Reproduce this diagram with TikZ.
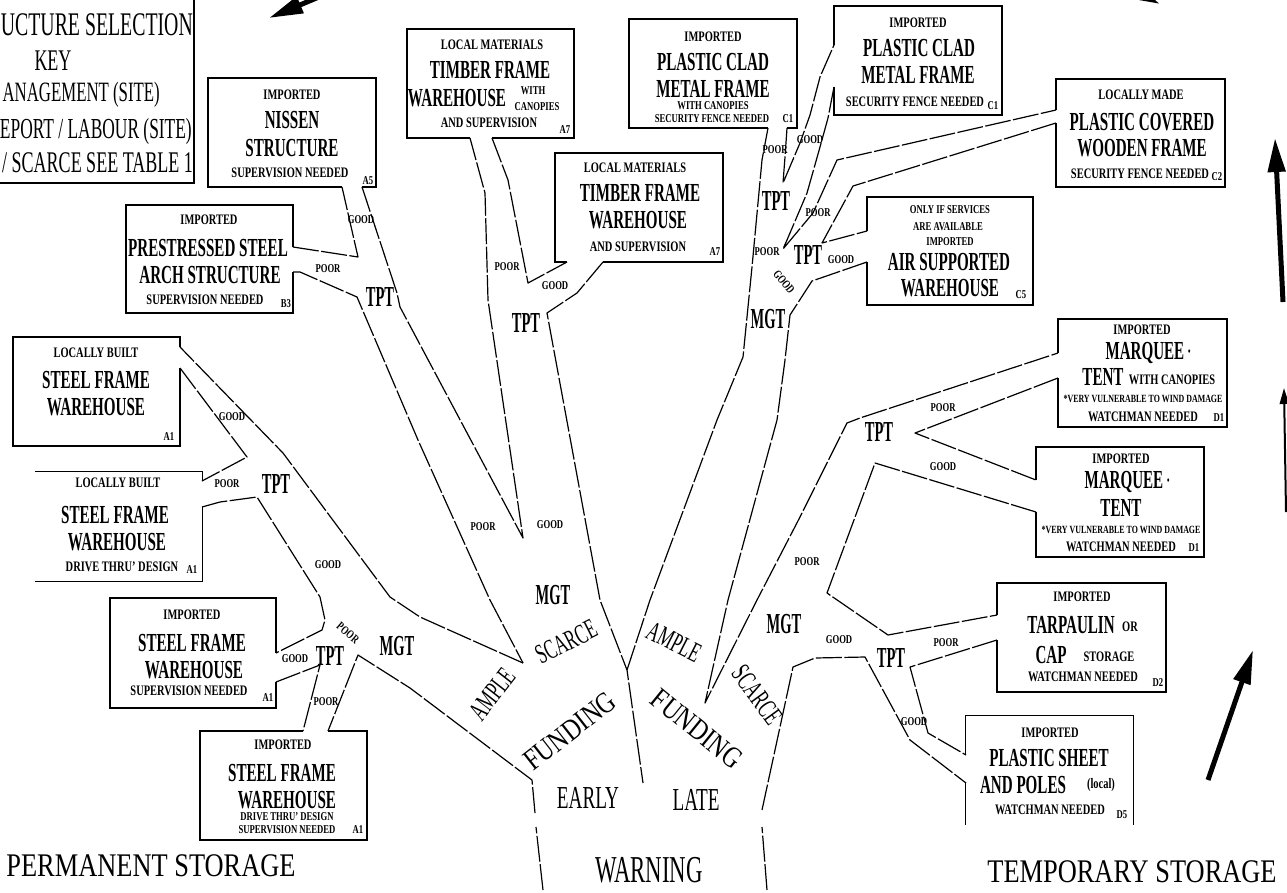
\documentclass[tikz,border=0pt]{standalone}
\usepackage{fontspec}
\usetikzlibrary{arrows.meta}
\setmainfont{Liberation Serif}
\newbox\cbx
\tikzset{
  cond/.style={execute at begin node={\setbox\cbx=\hbox\bgroup},
               execute at end node={\egroup\scalebox{#1}[1]{\box\cbx}}},
  bx/.style={draw, line width=1.3pt, inner sep=0pt},
  bxo/.style={inner sep=0pt},
  boxline/.style={line width=1.3pt},
  big/.style={font=\bfseries\fontsize{26}{26}\selectfont, inner sep=0pt, cond=0.58},
  sm/.style={font=\bfseries\fontsize{14.5}{14.5}\selectfont, inner sep=0pt, cond=0.72},
  tiny/.style={font=\bfseries\fontsize{11}{11}\selectfont, inner sep=0pt, cond=0.72},
  pg/.style={font=\bfseries\fontsize{12}{12}\selectfont, inner sep=0pt, cond=0.72},
  code/.style={font=\bfseries\fontsize{12}{12}\selectfont, inner sep=0pt, cond=0.72},
  tp/.style={font=\bfseries\fontsize{29}{29}\selectfont, inner sep=0pt, cond=0.5},
  mid/.style={font=\fontsize{28}{28}\selectfont, inner sep=0pt, cond=0.6},
  fund/.style={font=\fontsize{30}{30}\selectfont, inner sep=0pt, cond=0.8},
  lbl/.style={font=\fontsize{32}{32}\selectfont, inner sep=0pt, cond=0.6},
  ttl/.style={font=\fontsize{33}{33}\selectfont, inner sep=0pt, cond=0.8},
  keyt/.style={font=\fontsize{#1}{#1}\selectfont, inner sep=0pt, anchor=east, cond=0.6},
  ch/.style={line width=1.2pt, line join=round, dash pattern=on 26pt off 2.5pt},
  gap/.style={draw=white, line width=3.5pt},
  arr/.style={line width=5pt, -{Triangle[length=34pt,width=17pt]}}
}
\newcommand{\mq}{MARQUEE \raisebox{4pt}{\fontsize{12}{12}\selectfont •}}
\begin{document}
\begin{tikzpicture}[x=1pt,y=-1pt]
\useasboundingbox (0,0) rectangle (1287,892);

% ---------- key box ----------
\node[bx, minimum width=214pt, minimum height=203pt] (key) at (87,81.5) {};
\node[keyt=33] (k1) at (193,25) {UCTURE SELECTION};
\node[font=\fontsize{30}{30}\selectfont, inner sep=0pt, cond=0.6] (k2) at (53,61) {KEY};
\node[keyt=28] (k3) at (160,95) {ANAGEMENT (SITE)};
\node[keyt=29] (k4) at (192,132) {EPORT / LABOUR (SITE)};
\node[keyt=30] (k5) at (193,163) {/ SCARCE SEE TABLE 1};

% ---------- boxes ----------
\node[bx, minimum width=168pt, minimum height=109pt] (bA5) at (292,132.5) {};
\node[bx, minimum width=167pt, minimum height=108pt] (bB3) at (209.5,259) {};
\node[bx, minimum width=167pt, minimum height=109pt] (bA7u) at (490.5,83.5) {};
\node[bx, minimum width=168pt, minimum height=109pt] (bA7l) at (639,207.5) {};
\node[bx, minimum width=168pt, minimum height=109pt] (bC1l) at (713,73.5) {};
\node[bx, minimum width=168pt, minimum height=109pt] (bC1r) at (918,60.5) {};
\node[bx, minimum width=169pt, minimum height=108pt] (bC2) at (1140.5,133) {};
\node[bx, minimum width=166pt, minimum height=108pt] (bC5) at (950,251) {};
\node[bx, minimum width=169pt, minimum height=108pt] (bD1u) at (1142.5,373) {};
\node[bx, minimum width=168pt, minimum height=110pt] (bD1l) at (1120,502) {};
\node[bx, minimum width=169pt, minimum height=109pt] (bD2) at (1081.5,637.5) {};
\node[bxo, minimum width=167pt, minimum height=109pt] (bD5) at (1049.5,770.5) {};
\draw[boxline] (bD5.south west) -- (bD5.north west) -- (bD5.north east) -- (bD5.south east);
\node[bx, minimum width=167pt, minimum height=109pt] (bA1a) at (96.5,391.5) {};
\node[bxo, minimum width=167pt, minimum height=109pt] (bA1b) at (118.5,526.5) {};
\draw[boxline] (bA1b.north west) -- (bA1b.north east) -- (bA1b.south east) -- (bA1b.south west);
\node[bx, minimum width=166pt, minimum height=110pt] (bA1c) at (193,653) {};
\node[bx, minimum width=167pt, minimum height=109pt] (bA1d) at (283.5,785.5) {};

% openings where the branches enter the boxes
\draw[gap] (342,187) -- (362,187);
\draw[gap] (293,247) -- (293,272);
\draw[gap] (470,138) -- (492,138);
\draw[gap] (567,262) -- (603,262);
\draw[gap] (768,128) -- (787,128);
\draw[gap] (834,45) -- (834,87);
\draw[gap] (1056,110) -- (1056,123);
\draw[gap] (867,231) -- (867,262);
\draw[gap] (1058,353) -- (1058,378);
\draw[gap] (1036,480) -- (1036,512);
\draw[gap] (997,615) -- (997,640);
\draw[gap] (966,755) -- (966,783);
\draw[gap] (180,347) -- (180,368);
\draw[gap] (202,481) -- (202,507);
\draw[gap] (276,653) -- (276,682);
\draw[gap] (303,731) -- (328,731);

% ---------- box texts ----------
% A5
\node[sm] (a5t1) at (292,95) {IMPORTED};
\node[big] (a5t2) at (292,120) {NISSEN};
\node[big] (a5t3) at (292,148) {STRUCTURE};
\node[sm] (a5t4) at (290,173) {SUPERVISION NEEDED};
\node[code] (a5c) at (368,181) {A5};
% B3
\node[sm] (b3t1) at (209,220) {IMPORTED};
\node[big] (b3t2) at (208,248) {PRESTRESSED STEEL};
\node[big] (b3t3) at (210,275) {ARCH STRUCTURE};
\node[sm] (b3t4) at (205,300) {SUPERVISION NEEDED};
\node[code] (b3c) at (286,304) {B3};
% A7 upper
\node[sm] (a7ut1) at (492,45) {LOCAL MATERIALS};
\node[big] (a7ut2) at (490,70) {TIMBER FRAME};
\node[big] (a7ut3) at (457,98) {WAREHOUSE};
\node[pg] (a7ut4) at (533,91) {WITH};
\node[pg] (a7ut5) at (537,107) {CANOPIES};
\node[sm] (a7ut6) at (489,123) {AND SUPERVISION};
\node[code] (a7uc) at (565,130) {A7};
% A7 lower
\node[sm] (a7lt1) at (635,168) {LOCAL MATERIALS};
\node[big] (a7lt2) at (640,193) {TIMBER FRAME};
\node[big] (a7lt3) at (638,220) {WAREHOUSE};
\node[sm] (a7lt4) at (638,247) {AND SUPERVISION};
\node[code] (a7lc) at (715,252) {A7};
% C1 left
\node[sm] (c1lt1) at (713,37) {IMPORTED};
\node[big] (c1lt2) at (713,62) {PLASTIC CLAD};
\node[big] (c1lt3) at (713,89) {METAL FRAME};
\node[pg] (c1lt4) at (713,106) {WITH CANOPIES};
\node[pg] (c1lt5) at (712,119) {SECURITY FENCE NEEDED};
\node[code] (c1lc) at (788,119) {C1};
% C1 right
\node[sm] (c1rt1) at (918,23) {IMPORTED};
\node[big] (c1rt2) at (919,48) {PLASTIC CLAD};
\node[big] (c1rt3) at (918,75) {METAL FRAME};
\node[sm] (c1rt4) at (915,102) {SECURITY FENCE NEEDED};
\node[code] (c1rc) at (993,106) {C1};
% C2
\node[sm] (c2t1) at (1141,95) {LOCALLY MADE};
\node[big] (c2t2) at (1142,122) {PLASTIC COVERED};
\node[big] (c2t3) at (1142,148) {WOODEN FRAME};
\node[sm] (c2t4) at (1140,174) {SECURITY FENCE NEEDED};
\node[code] (c2c) at (1217,177) {C2};
% C5
\node[pg] (c5t1) at (950,210) {ONLY IF SERVICES};
\node[pg] (c5t2) at (948,227) {ARE AVAILABLE};
\node[pg] (c5t3) at (950,242) {IMPORTED};
\node[big] (c5t4) at (949,262) {AIR SUPPORTED};
\node[big] (c5t5) at (950,288) {WAREHOUSE};
\node[code] (c5c) at (1021,295) {C5};
% D1 upper
\node[sm] (d1ut1) at (1142,330) {IMPORTED};
\node[big] (d1ut2) at (1148,353) {\mq};
\node[big] (d1ut3) at (1103,377) {TENT};
\node[sm] (d1ut4) at (1172,380) {WITH CANOPIES};
\node[tiny] (d1ut5) at (1143,399) {*VERY VULNERABLE TO WIND DAMAGE};
\node[sm] (d1ut6) at (1143,417) {WATCHMAN NEEDED};
\node[code] (d1uc) at (1219,418) {D1};
% D1 lower
\node[sm] (d1lt1) at (1121,459) {IMPORTED};
\node[big] (d1lt2) at (1127,482) {\mq};
\node[big] (d1lt3) at (1121,508) {TENT};
\node[tiny] (d1lt4) at (1121,530) {*VERY VULNERABLE TO WIND DAMAGE};
\node[sm] (d1lt5) at (1121,547) {WATCHMAN NEEDED};
\node[code] (d1lc) at (1194,548) {D1};
% D2
\node[sm] (d2t1) at (1082,597) {IMPORTED};
\node[big] (d2t2) at (1071,625) {TARPAULIN};
\node[sm] (d2t3) at (1130,627) {OR};
\node[big] (d2t4) at (1051,655) {CAP};
\node[sm] (d2t5) at (1109,657) {STORAGE};
\node[sm] (d2t6) at (1083,677) {WATCHMAN NEEDED};
\node[code] (d2c) at (1158,683) {D2};
% D5
\node[sm] (d5t1) at (1050,733) {IMPORTED};
\node[big] (d5t2) at (1049,758) {PLASTIC SHEET};
\node[big] (d5t3) at (1023,785) {AND POLES};
\node[sm] (d5t4) at (1101,785) {(local)};
\node[sm] (d5t5) at (1050,810) {WATCHMAN NEEDED};
\node[code] (d5c) at (1122,815) {D5};
% A1 locally built
\node[sm] (a1at1) at (96,353) {LOCALLY BUILT};
\node[big] (a1at2) at (96,380) {STEEL FRAME};
\node[big] (a1at3) at (96,407) {WAREHOUSE};
\node[code] (a1ac) at (169,437) {A1};
% A1 locally built drive thru
\node[sm] (a1bt1) at (118,483) {LOCALLY BUILT};
\node[big] (a1bt2) at (115,515) {STEEL FRAME};
\node[big] (a1bt3) at (117,542) {WAREHOUSE};
\node[sm] (a1bt4) at (122,567) {DRIVE THRU' DESIGN};
\node[code] (a1bc) at (192,570) {A1};
% A1 imported
\node[sm] (a1ct1) at (192,615) {IMPORTED};
\node[big] (a1ct2) at (192,643) {STEEL FRAME};
\node[big] (a1ct3) at (194,670) {WAREHOUSE};
\node[sm] (a1ct4) at (189,691) {SUPERVISION NEEDED};
\node[code] (a1cc) at (268,698) {A1};
% A1 imported drive thru
\node[sm] (a1dt1) at (283,745) {IMPORTED};
\node[big] (a1dt2) at (282,773) {STEEL FRAME};
\node[big] (a1dt3) at (287,800) {WAREHOUSE};
\node[pg] (a1dt4) at (287,817) {DRIVE THRU' DESIGN};
\node[pg] (a1dt5) at (287,830) {SUPERVISION NEEDED};
\node[code] (a1dc) at (358,830) {A1};

% ---------- branch outlines ----------
\draw[ch] (543,890) -- (536,827);
\draw[ch] (535,813) -- (532,780) -- (410,688) -- (358,655) -- (328,731);
\draw[ch] (523,663) -- (420,617) -- (390,597) -- (283,453) -- (180,347);
\draw[ch] (180,368) -- (247,457) -- (202,481);
\draw[ch] (202,507) -- (220,502) -- (257,497) -- (320,597) -- (325,620) -- (322,630) -- (276,653);
\draw[ch] (276,682) -- (320,665) -- (303,731);
\draw[ch] (293,272) -- (300,272) -- (357,297) -- (418,440) -- (490,600) -- (523,663);
\draw[ch] (362,187) -- (397,293) -- (400,307) -- (523,538) -- (488,300) -- (485,193) -- (470,138);
\draw[ch] (293,247) -- (358,257) -- (342,187);
\draw[ch] (492,138) -- (508,180) -- (528,283) -- (567,262);
\draw[ch] (603,262) -- (577,293) -- (547,313) -- (600,600) -- (627,670) -- (643,783);
\draw[ch] (627,670) -- (650,600) -- (717,420) -- (743,357) -- (752,267) -- (762,160) -- (768,128);
\draw[ch] (787,128) -- (785,157) -- (783,183) -- (800,143) -- (810,115) -- (820,77) -- (834,45);
\draw[ch] (834,87) -- (828,118) -- (820,147) -- (807,193) -- (787,240) -- (783,249) -- (813,213) -- (837,160) -- (1056,110);
\draw[ch] (1056,123) -- (853,186) -- (822,243) -- (867,231);
\draw[ch] (867,262) -- (812,281) -- (790,315) -- (785,360) -- (777,420) -- (728,600) -- (705,703) -- (757,600) -- (800,517) -- (847,423) -- (860,418) -- (1058,353);
\draw[ch] (1058,378) -- (915,433) -- (1036,480);
\draw[ch] (1036,512) -- (875,463) -- (827,593) -- (888,635) -- (997,615);
\draw[ch] (997,640) -- (910,667) -- (928,733) -- (966,755);
\draw[ch] (767,890) -- (762,827);
\draw[ch] (762,810) -- (793,667) -- (815,658) -- (865,657) -- (910,740) -- (966,783);

% ---------- branch labels ----------
\node[pg] (g1) at (361,220) {GOOD};
\node[pg] (p1) at (328,269) {POOR};
\node[tp] (tpt1) at (380,297) {TPT};
\node[pg] (p2) at (507,267) {POOR};
\node[pg] (g2) at (555,286) {GOOD};
\node[tp] (tpt2) at (526,323) {TPT};
\node[pg] (p3) at (483,527) {POOR};
\node[pg] (g3) at (550,525) {GOOD};
\node[tp] (mgt1) at (553,595) {MGT};
\node[pg] (g4) at (232,417) {GOOD};
\node[pg] (p4) at (227,484) {POOR};
\node[tp] (tpt3) at (276,484) {TPT};
\node[pg] (g5) at (328,565) {GOOD};
\node[tp] (mgt2) at (397,646) {MGT};
\node[tp] (tpt4) at (330,656) {TPT};
\node[pg] (g6) at (295,659) {GOOD};
\node[pg, rotate=-40] (p5) at (348,633) {POOR};
\node[pg] (p6) at (326,702) {POOR};
\node[pg] (p7) at (775,150) {POOR};
\node[pg] (g7) at (810,140) {GOOD};
\node[tp] (tpt5) at (776,201) {TPT};
\node[pg] (p8) at (818,213) {POOR};
\node[pg] (p9) at (767,252) {POOR};
\node[tp] (tpt6) at (808,255) {TPT};
\node[pg] (g8) at (841,260) {GOOD};
\node[pg, rotate=-51] (g9) at (784,282) {GOOD};
\node[tp] (mgt3) at (768,319) {MGT};
\node[tp] (tpt7) at (879,432) {TPT};
\node[pg] (p10) at (943,408) {POOR};
\node[pg] (g10) at (943,467) {GOOD};
\node[pg] (p11) at (807,562) {POOR};
\node[tp] (mgt4) at (784,624) {MGT};
\node[pg] (g11) at (839,640) {GOOD};
\node[tp] (tpt8) at (891,658) {TPT};
\node[pg] (p12) at (946,643) {POOR};
\node[pg] (g12) at (914,722) {GOOD};

\node[mid, rotate=27] (sc1) at (566,642) {SCARCE};
\node[mid, rotate=52] (am1) at (492,694) {AMPLE};
\node[fund, rotate=38] (fu1) at (570,731) {FUNDING};
\node[mid, rotate=-27] (am2) at (674,642) {AMPLE};
\node[fund, rotate=-39] (fu2) at (697,729) {FUNDING};
\node[mid, rotate=-54] (sc2) at (757,695) {SCARCE};
\node[lbl] (early) at (588,798) {EARLY};
\node[lbl] (late) at (696,800) {LATE};
\node[font=\fontsize{38}{38}\selectfont, inner sep=0pt, cond=0.6] (warn) at (649,870) {WARNING};
\node[ttl] (perm) at (151,866) {PERMANENT STORAGE};
\node[ttl] (temp) at (1132,872) {TEMPORARY STORAGE};

% ---------- arrows ----------
\coordinate (a1s) at (345,-14);
\coordinate (a1e) at (269,18);
\draw[arr] (a1s) -- (a1e);
\coordinate (a2s) at (1085,-32);
\coordinate (a2e) at (1160,4);
\draw[arr] (a2s) -- (a2e);
\coordinate (a3s) at (1283,302);
\coordinate (a3e) at (1275,138);
\draw[arr] (a3s) -- (a3e);
\coordinate (a4s) at (1286,512);
\coordinate (a4e) at (1284,388);
\draw[line width=2pt, -{Triangle[length=16pt,width=9pt]}] (a4s) -- (a4e);
\coordinate (a5s) at (1208,780);
\coordinate (a5e) at (1253,650);
\draw[arr] (a5s) -- (a5e);
\end{tikzpicture}
\end{document}
